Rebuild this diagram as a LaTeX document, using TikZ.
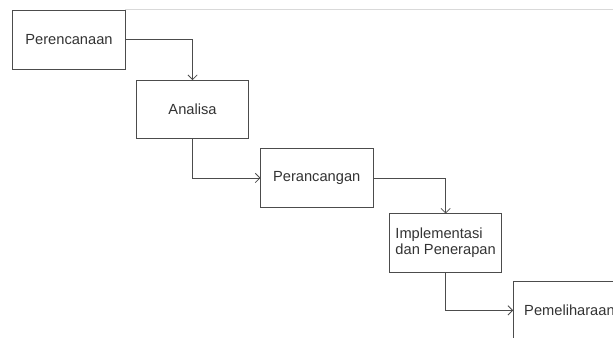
\documentclass[tikz,border=0pt]{standalone}
\usepackage{fontspec}
\setmainfont{Liberation Sans}
\usetikzlibrary{arrows.meta,positioning}

\begin{document}
\begin{tikzpicture}[node distance=8.25pt,
  stage/.style={draw=black!70, line width=0.75pt, minimum width=84.4pt,
    minimum height=43.9pt, inner sep=0pt, outer sep=0pt, text=black!80,
    font=\fontsize{11}{12}\selectfont, align=left},
  flow/.style={-{Straight Barb[length=3.5pt,width=7pt]}, draw=black!70, line width=0.6pt}]

\useasboundingbox (0,0) rectangle (459.75pt,-252.75pt);
\clip (0,0) rectangle (459.75pt,-252.75pt);

\node [stage] (p1) at (51.75pt,-29.9pt) {Perencanaan};
\node [stage, below right =8.25pt and 8.25pt of p1] (p2) {Analisa};
\node [stage, below right =7.5pt and 8.75pt of p2] (p3) {Perancangan};
\node [stage, below right =4.75pt and 12.25pt of p3] (p4) {Implementasi\\dan Penerapan};
\node [stage, below right =6.75pt and 8.5pt of p4] (p5) {Pemeliharaan};

\draw [flow] (p1) -| (p2);
\draw [flow] (p2) |- (p3);
\draw [flow] (p3) -| (p4);
\draw [flow] (p4) |- (p5);

% faint page edge
\coordinate (edge) at (459.75pt,-6.75pt);
\draw [black!15, line width=0.5pt] (p1.north east |- edge) -- (edge);

\end{tikzpicture}
\end{document}
